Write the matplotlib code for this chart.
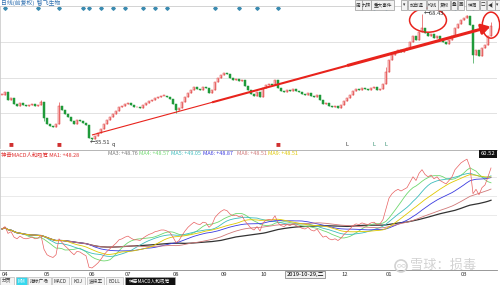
# 智飞生物 日线 + 神奇MACD人和吸筹 指标, 截图复刻
import numpy as np
import pandas as pd
import matplotlib
matplotlib.use('Agg')
import matplotlib.pyplot as plt
import matplotlib.transforms as mtransforms
from matplotlib.patches import Ellipse, Rectangle

plt.rcParams['font.family'] = ['Noto Sans CJK SC', 'DejaVu Sans']

# 收盘价 (前复权), 2019-04 ~ 2020-03, 从图上读的
close = [47.3, 48.0, 46.0, 46.5, 44.9, 44.4, 45.2, 44.6, 44.4, 44.6,
         44.9, 44.4, 44.6, 45.4, 41.3, 39.7, 39.2, 38.9, 39.7, 44.4,
         43.3, 42.3, 41.5, 40.5, 39.7, 40.7, 40.5, 39.9, 39.4, 36.0,
         35.8, 36.5, 37.3, 38.4, 39.7, 40.7, 41.5, 42.3, 43.1, 44.1,
         44.4, 44.9, 45.2, 44.6, 44.1, 44.1, 43.9, 44.6, 45.2, 45.7,
         46.0, 46.5, 46.7, 47.0, 47.0, 46.7, 46.2, 44.9, 43.3, 43.9,
         45.4, 46.7, 47.8, 48.6, 49.3, 48.8, 48.6, 49.3, 49.1, 47.8,
         48.6, 50.7, 51.7, 52.5, 53.0, 52.7, 51.7, 51.2, 51.4, 50.9,
         51.2, 49.6, 48.6, 47.5, 47.0, 48.0, 46.7, 49.1, 49.9, 50.1,
         49.9, 51.2, 49.1, 48.3, 48.0, 48.6, 48.3, 48.8, 48.3, 48.0,
         47.5, 47.3, 47.8, 47.0, 46.7, 47.3, 46.0, 44.9, 45.2, 44.4,
         44.1, 44.4, 43.9, 44.6, 45.7, 46.5, 47.3, 48.3, 48.8, 48.6,
         49.1, 48.8, 48.6, 49.1, 49.3, 48.6, 48.8, 50.1, 53.3, 56.4,
         57.7, 58.5, 59.0, 58.5, 59.0, 59.5, 61.1, 62.7, 61.6, 63.7,
         64.8, 63.4, 62.7, 63.2, 62.1, 62.7, 61.6, 61.1, 60.6, 61.6,
         62.7, 64.8, 65.8, 66.8, 67.4, 67.9, 65.5, 57.7, 59.0, 57.4,
         59.5, 60.3, 62.7, 65.3]
# 看得清的影线
highs = {13: 46.0, 19: 45.3, 140: 68.43, 155: 68.1, 163: 66.4, 128: 54.5}
lows = {30: 35.51, 157: 55.6, 14: 40.4, 58: 42.6}
high_val = 68.43
low_val = 35.51

month_labels = ['04', '05', '06', '07', '08', '09', '10', '12', '01', '03']
month_idx = [0, 14, 29, 41, 57, 73, 86, 113, 128, 153]
cursor_idx = 101
cursor_label = '2019-10-29,二'

event_idx = [1, 12, 19, 27, 29, 33, 37, 41, 47, 51, 55, 71, 79, 85, 92,
             124, 128, 151, 157, 160]
flag_idx = [3, 19, 92]
q_idx = [37]
L_idx = [115, 124, 128]

trend_start = (30, 36.8)
trend_end = (163.7, 65.3)

# 指标线: 名称, 周期, 颜色, 图例文字
ma_specs = [('MA3', 60, '#333333', '+48.76'),
            ('MA4', 8, '#6fd86f', '+48.57'),
            ('MA5', 15, '#3cbcbc', '+49.05'),
            ('MA6', 30, '#3a3ae0', '+48.87'),
            ('MA8', 45, '#d07878', '+48.51'),
            ('MA9', 22, '#e0c800', '+48.51')]
ma1_text = '+48.28'

top_grid = [61.1, 51.7, 42.6]
low_grid = [62.6, 57.0, 51.4]

RED = '#e23c3c'
GREEN = '#1f9a3a'
FS = 4.2


def main():
    fig = plt.figure(figsize=(5, 2.85), dpi=100)
    x = np.arange(len(close))
    opens = [close[0]] + close[:-1]

    # ---- 上: K线
    ax = fig.add_axes([0.0, 1 - 148 / 285, 0.994, 142 / 285])
    ax.set_xlim(-0.67, 165)
    ax.set_ylim(33.4, 70.5)
    for g in top_grid:
        ax.axhline(g, color='#dddddd', lw=0.6, zorder=0)
    for i in x:
        o, c = opens[i], close[i]
        col = RED if c >= o else GREEN
        hi = highs.get(i, max(o, c))
        lo = lows.get(i, min(o, c))
        ax.vlines(i, lo, hi, color=col, lw=0.45)
        h = max(abs(c - o), 0.12)
        ax.bar(i, h, bottom=min(o, c), width=0.5,
               color=('#f8d0d0' if col == RED else GREEN), edgecolor=col, lw=0.35)

    # 趋势线, 逐渐变粗
    slope = (trend_end[1] - trend_start[1]) / (trend_end[0] - trend_start[0])
    segs = [(trend_start[0], 70, 0.8), (70, 115, 1.5), (115, 158, 2.2)]
    for a, b, lw in segs:
        ax.plot([a, b], [trend_start[1] + (a - trend_start[0]) * slope,
                         trend_start[1] + (b - trend_start[0]) * slope],
                color='#e8231c', lw=lw, solid_capstyle='butt')
    ax.annotate('', xy=trend_end,
                xytext=(157, trend_start[1] + (157 - trend_start[0]) * slope),
                arrowprops=dict(arrowstyle='-|>,head_length=0.5,head_width=0.3',
                                color='#e8231c', lw=2.2))

    ax.text(140.6, high_val, '←' + format(high_val, '.2f'), fontsize=FS,
            va='center', ha='left', color='#333333')
    ax.text(29.4, low_val - 0.6, '←' + format(low_val, '.2f'), fontsize=FS,
            va='center', ha='left', color='#333333')
    ax.add_patch(Ellipse((142, 66.8), 12.3, 6.3, fill=False, ec='#e8231c', lw=1.1))
    ax.add_patch(Ellipse((163, 65.5), 5.8, 6.8, fill=False, ec='#e8231c', lw=1.1,
                         clip_on=False))

    tr = mtransforms.blended_transform_factory(ax.transData, ax.transAxes)
    ax.scatter(event_idx, [0.986] * len(event_idx), marker='D', s=3,
               color='#3a8ab0', transform=tr, clip_on=False)
    for i in flag_idx:
        ax.text(i, 0.025, '■', color='#d03030', fontsize=3.5, ha='center',
                va='center', transform=tr)
    for i in q_idx:
        ax.text(i, 0.025, 'q', color='#333333', fontsize=4, ha='center',
                va='center', transform=tr)
    for k, i in enumerate(L_idx):
        ax.text(i, 0.025, 'L', color='#333333' if k == 0 else '#2a8a6a',
                fontsize=4, ha='center', va='center', transform=tr)

    ax.set_xticks([])
    ax.set_yticks([])
    for s in ['right', 'bottom']:
        ax.spines[s].set_visible(False)
    for s in ['left', 'top']:
        ax.spines[s].set_color('#cccccc')
        ax.spines[s].set_linewidth(0.6)

    # ---- 下: 神奇MACD人和吸筹
    ax2 = fig.add_axes([0.0, 1 - 270 / 285, 0.994, 120 / 285])
    ax2.set_xlim(-0.67, 165)
    ax2.set_ylim(35.2, 70.6)
    for g in low_grid:
        ax2.axhline(g, color='#e2e2e2', lw=0.5, zorder=0)
    s = pd.Series(close)
    for name, w, col, _ in ma_specs:
        lw = 0.9 if name == 'MA3' else 0.6
        ax2.plot(x, s.rolling(w, min_periods=1).mean(), color=col, lw=lw)
    ax2.plot(x, close, color='#e86060', lw=0.5)

    ax2.text(0.002, 0.967, '神奇MACD人和吸筹 MA1: ' + ma1_text, color='#e03030',
             fontsize=3.9, transform=ax2.transAxes, va='center', ha='left')
    legend_x = [108, 139, 171, 203, 237, 268]
    for (name, _, col, val), px in zip(ma_specs, legend_x):
        ax2.text(px / 497, 0.967, name + ': ' + val,
                 color='#777777' if name == 'MA3' else col,
                 fontsize=3.9, transform=ax2.transAxes, va='center', ha='left')
    ax2.text(0.997, 0.967, '60.52', color='white', fontsize=FS,
             transform=ax2.transAxes, va='center', ha='right',
             bbox=dict(boxstyle='square,pad=0.25', fc='#111111', ec='none'))

    ax2.set_yticks([])
    ax2.set_xticks(month_idx)
    ax2.set_xticklabels(month_labels)
    ax2.tick_params(axis='x', length=0, labelsize=FS, pad=1.5, colors='#333333')
    for lab in ax2.get_xticklabels():
        lab.set_ha('left')
    tr2 = mtransforms.blended_transform_factory(ax2.transData, ax2.transAxes)
    ax2.text(cursor_idx, -0.018, cursor_label, fontsize=FS, ha='center', va='top',
             transform=tr2,
             bbox=dict(boxstyle='square,pad=0.15', fc='#f2f2f2', ec='#777777', lw=0.5))
    ax2.spines['right'].set_visible(False)
    ax2.spines['top'].set_color('#aaaaaa')
    ax2.spines['top'].set_linewidth(0.6)
    ax2.spines['left'].set_color('#cccccc')
    ax2.spines['left'].set_linewidth(0.6)
    ax2.spines['bottom'].set_color('#888888')
    ax2.spines['bottom'].set_linewidth(0.6)

    # ---- 界面部分 (像素坐标)
    ui = fig.add_axes([0, 0, 1, 1])
    ui.set_xlim(0, 500)
    ui.set_ylim(285, 0)
    ui.axis('off')

    ui.text(1, 2.5, '日线(前复权)  智飞生物', color='#3070b0', fontsize=FS, va='center')

    buttons = [('周', 355, 362), ('九转', 362, 371), ('重大事件', 371, 394),
               ('▾', 401, 407), ('加自选', 408, 426), ('均线', 427, 438),
               ('复权', 438, 450), ('叠', 451, 457), ('画', 458, 464),
               ('神洞', 466, 479), ('□', 480, 486), ('◀|', 487, 495), ('▾', 495, 500)]
    for lab, a, b in buttons:
        ui.add_patch(Rectangle((a, 0), b - a, 9.5, fc='#f2f2f2', ec='#999999', lw=0.5))
        ui.text((a + b) / 2, 5, lab, fontsize=3.3, ha='center', va='center', color='#333333')

    tabs = [('分页', 0, 14, '#f4f4f4', '#333333'), ('MM', 16, 27, '#35d8ee', 'white'),
            ('指标广场', 28, 51, '#f4f4f4', '#333333'), ('MACD', 52, 69, '#f4f4f4', '#333333'),
            ('KDJ', 71, 85, '#f4f4f4', '#333333'), ('波段王', 87, 104, '#f4f4f4', '#333333'),
            ('BOLL', 106, 123, '#f4f4f4', '#333333'),
            ('神奇MACD人和吸筹', 125, 175, '#111111', 'white')]
    for lab, a, b, fc, tc in tabs:
        ui.add_patch(Rectangle((a, 277), b - a, 8, fc=fc, ec='#aaaaaa', lw=0.4))
        ui.text((a + b) / 2, 281.3, lab, fontsize=3.4, ha='center', va='center', color=tc)

    # 水印
    ui.add_patch(Ellipse((401, 266), 12, 12, fill=False, ec='#d2d2d2', lw=1.2))
    ui.text(401, 266, '∞', fontsize=6.5, color='#d2d2d2', ha='center', va='center')
    ui.text(410, 265, '雪球：损毒', fontsize=9.5, color='#d2d2d2', ha='left', va='center')

    fig.savefig('out.png', dpi=100)


if __name__ == '__main__':
    main()
